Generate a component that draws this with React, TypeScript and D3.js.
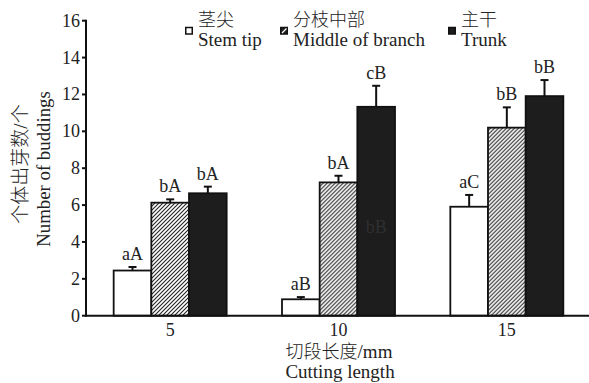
import React from "react";
import * as d3 from "d3";

// Cutting lengths (mm) and series
const lengths = ["5", "10", "15"];
const seriesKeys = ["stem", "middle", "trunk"];
const seriesZh = ["茎尖", "分枝中部", "主干"];
const seriesEn = ["Stem tip", "Middle of branch", "Trunk"];

// Mean number of buddings per cutting
const stemTip = [2.45, 0.89, 5.91];
const middleBranch = [6.13, 7.23, 10.2];
const trunk = [6.64, 11.33, 11.91];

// Standard errors (upper bars only)
const stemTipErr = [0.19, 0.12, 0.64];
const middleBranchErr = [0.18, 0.36, 1.1];
const trunkErr = [0.36, 1.14, 0.87];

// Significance letters
const stemTipSig = ["aA", "aB", "aC"];
const middleBranchSig = ["bA", "bA", "bB"];
const trunkSig = ["bA", "cB", "bB"];

const yTicks = [0, 2, 4, 6, 8, 10, 12, 14, 16];

const W = 589;
const H = 383;
const SERIF = '"Liberation Serif"';
const CJK = '"Noto Sans CJK SC"';
const BLACK = "#1d1d1d";

export default function App() {
  const x0 = d3.scaleBand<string>().domain(lengths).range([86, 591]).padding(0);
  const bw = x0.bandwidth();
  const groupW = 113;
  const x1 = d3
    .scaleBand<string>()
    .domain(seriesKeys)
    .range([bw / 2 - groupW / 2, bw / 2 + groupW / 2])
    .padding(0);
  const y = d3.scaleLinear().domain([0, 16]).range([315.7, 20.7]);

  const values = [stemTip, middleBranch, trunk];
  const errs = [stemTipErr, middleBranchErr, trunkErr];
  const sigs = [stemTipSig, middleBranchSig, trunkSig];
  const fills = ["#fff", "url(#hatch)", BLACK];

  const legendX = [185, 280, 448];
  const serif = (size: number) => ({ fontFamily: SERIF, fontSize: `${size}px` });
  const cjk = (size: number) => ({ fontFamily: CJK, fontSize: `${size}px`, fontWeight: 300 });

  return (
    <div style={{ position: "fixed", left: 0, top: 0 }}>
      <svg width={W} height={H} style={{ display: "block", background: "#fff" }}>
        <defs>
          <pattern id="hatch" patternUnits="userSpaceOnUse" width={4} height={4}>
            <rect width={4} height={4} fill="#fff" />
            <path d="M-1,1 l2,-2 M0,4 l4,-4 M3,5 l2,-2" stroke="#222" strokeWidth={1.1} />
          </pattern>
        </defs>

        {/* bars */}
        {lengths.map((len, gi) => (
          <g key={len} transform={`translate(${x0(len)},0)`}>
            {seriesKeys.map((k, si) => {
              const v = values[si][gi];
              const e = errs[si][gi];
              const bx = x1(k)!;
              const cx = bx + x1.bandwidth() / 2;
              const top = y(v);
              const capY = y(v + e);
              return (
                <g key={k}>
                  <line x1={cx} x2={cx} y1={top} y2={capY} stroke="#111" strokeWidth={2} />
                  <line x1={cx - 4} x2={cx + 4} y1={capY} y2={capY} stroke="#111" strokeWidth={2} />
                  <rect
                    x={bx}
                    y={top}
                    width={x1.bandwidth()}
                    height={y(0) - top}
                    fill={fills[si]}
                    stroke="#111"
                    strokeWidth={1.8}
                  />
                  <text x={cx} y={capY - 7} textAnchor="middle" style={serif(18)} fill="#222">
                    {sigs[si][gi]}
                  </text>
                </g>
              );
            })}
          </g>
        ))}

        {/* faint letters printed inside the 10 mm trunk bar */}
        <text
          x={x0("10")! + x1("trunk")! + x1.bandwidth() / 2}
          y={y(4.5)}
          textAnchor="middle"
          style={serif(18)}
          fill="#2f2f2f"
        >
          bB
        </text>

        {/* axes */}
        <line x1={86} x2={589} y1={y(0)} y2={y(0)} stroke="#111" strokeWidth={2} />
        <line x1={86} x2={86} y1={y(0) + 1} y2={y(16) - 1} stroke="#111" strokeWidth={2} />
        {yTicks.map((t) => (
          <g key={t}>
            <line x1={82} x2={86} y1={y(t)} y2={y(t)} stroke="#111" strokeWidth={2} />
            <text x={80} y={y(t)} dy="0.33em" textAnchor="end" style={serif(18)} fill="#222">
              {t}
            </text>
          </g>
        ))}
        {lengths.map((len) => (
          <text
            key={len}
            x={x0(len)! + bw / 2}
            y={336}
            textAnchor="middle"
            style={serif(18)}
            fill="#222"
          >
            {len}
          </text>
        ))}

        {/* x title */}
        <text x={339} y={357.5} textAnchor="middle" fill="#222">
          <tspan style={cjk(18)}>切段长度</tspan>
          <tspan style={serif(19)}>/mm</tspan>
        </text>
        <text x={340} y={378} textAnchor="middle" style={serif(19)} fill="#222">
          Cutting length
        </text>

        {/* y title */}
        <text transform="translate(27,164) rotate(-90)" textAnchor="middle" fill="#222">
          <tspan style={cjk(19)}>个体出芽数</tspan>
          <tspan style={serif(19)}>/</tspan>
          <tspan style={cjk(19)}>个</tspan>
        </text>
        <text transform="translate(50,169) rotate(-90)" textAnchor="middle" style={serif(18.8)} fill="#222">
          Number of buddings
        </text>

        {/* legend */}
        {seriesKeys.map((k, i) => (
          <g key={k}>
            <rect
              x={legendX[i] + 0.75}
              y={27.5}
              width={6.5}
              height={6.5}
              fill={i === 0 ? "#fff" : i === 1 ? "#222" : BLACK}
              stroke="#111"
              strokeWidth={1.5}
            />
            {i === 1 && (
              <line
                x1={legendX[i] + 2}
                y1={33}
                x2={legendX[i] + 6.5}
                y2={28.5}
                stroke="#fff"
                strokeWidth={1.3}
              />
            )}
            <text x={legendX[i] + 13} y={25.5} style={cjk(18)} fill="#222">
              {seriesZh[i]}
            </text>
            <text x={legendX[i] + 13} y={45.5} style={serif(19)} fill="#222">
              {seriesEn[i]}
            </text>
          </g>
        ))}
      </svg>
    </div>
  );
}
